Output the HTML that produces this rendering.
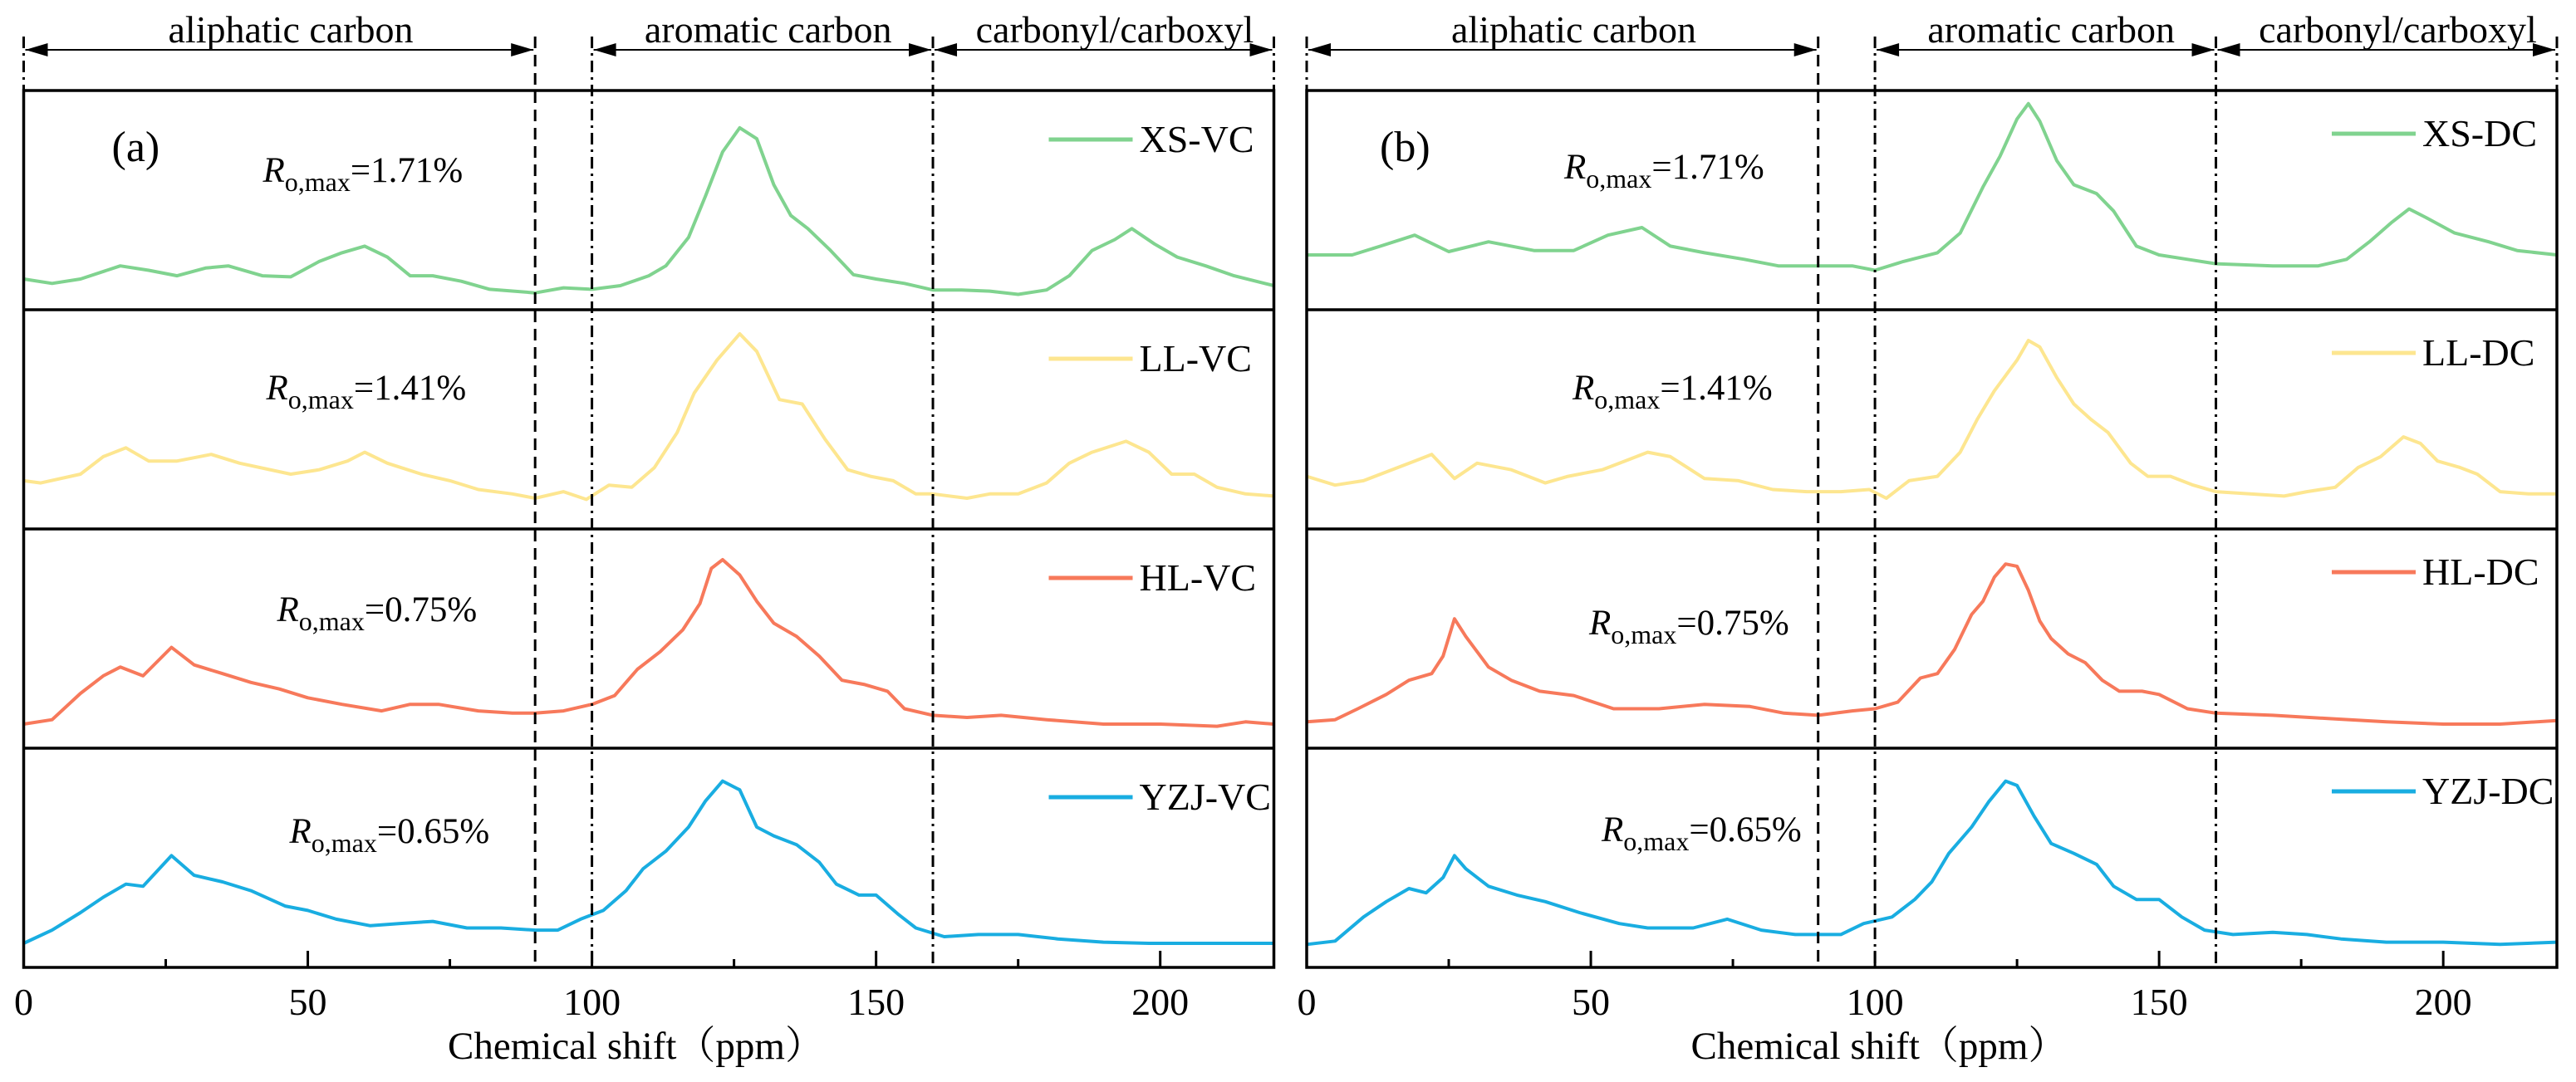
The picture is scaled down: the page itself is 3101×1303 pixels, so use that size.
<!DOCTYPE html>
<html><head><meta charset="utf-8"><style>
html,body{margin:0;padding:0;background:#fff;}
svg{display:block;font-family:"Liberation Serif","Noto Serif CJK SC",serif;}
</style></head><body>
<svg id="chart" width="3101" height="1303" viewBox="0 0 3101 1303" xmlns="http://www.w3.org/2000/svg"></svg>
<script>
// ---- data ----
const ppmXSVC=[0,5,10,17,22,27,32,36,42,47,52,56,60,64,68,72,77,82,90,95,100,105,110,113,117,120,123,126,129,132,135,138,142,146,150,155,160,165,170,175,180,184,188,192,195,199,203,208,213,220];
const intXSVC=[0.14,0.12,0.14,0.20,0.18,0.155,0.19,0.20,0.155,0.15,0.22,0.26,0.29,0.24,0.155,0.155,0.13,0.093,0.077,0.10,0.093,0.11,0.155,0.20,0.33,0.52,0.72,0.83,0.78,0.57,0.43,0.37,0.27,0.16,0.14,0.12,0.09,0.09,0.085,0.07,0.09,0.155,0.27,0.32,0.37,0.30,0.24,0.20,0.155,0.11];
const ppmLLVC=[0,3,10,14,18,22,27,33,38,47,52,57,60,64,70,75,80,86,90,95,99,103,107,111,115,118,122,126,129,133,137,141,145,149,153,157,160,166,170,175,180,184,188,194,198,202,206,210,215,220];
const intLLVC=[0.22,0.21,0.25,0.33,0.37,0.31,0.31,0.34,0.30,0.25,0.27,0.31,0.35,0.30,0.25,0.22,0.18,0.16,0.14,0.17,0.135,0.20,0.19,0.28,0.44,0.62,0.77,0.89,0.81,0.59,0.57,0.41,0.27,0.24,0.22,0.16,0.16,0.14,0.16,0.16,0.21,0.30,0.35,0.40,0.35,0.25,0.25,0.19,0.16,0.15];
const ppmHLVC=[0,5,10,14,17,21,26,30,35,40,45,50,56,63,68,73,80,86,90,95,100,104,108,112,116,119,121,123,126,129,132,136,140,144,148,152,155,160,166,172,180,190,200,210,215,220];
const intHLVC=[0.11,0.13,0.25,0.33,0.37,0.33,0.46,0.38,0.34,0.30,0.27,0.23,0.20,0.17,0.20,0.20,0.17,0.16,0.16,0.17,0.20,0.24,0.36,0.44,0.54,0.66,0.82,0.86,0.79,0.67,0.57,0.51,0.42,0.31,0.29,0.26,0.18,0.15,0.14,0.15,0.13,0.11,0.11,0.10,0.12,0.11];
const ppmYZJVC=[0,5,10,14,18,21,26,30,35,40,46,50,55,61,66,72,78,84,90,94,98,102,106,109,113,117,120,123,126,129,132,136,140,143,147,150,154,157,162,168,175,182,190,198,205,212,220];
const intYZJVC=[0.11,0.17,0.25,0.32,0.38,0.37,0.51,0.42,0.39,0.35,0.28,0.26,0.22,0.19,0.20,0.21,0.18,0.18,0.17,0.17,0.22,0.26,0.35,0.45,0.53,0.64,0.76,0.85,0.81,0.64,0.60,0.56,0.48,0.38,0.33,0.33,0.24,0.18,0.14,0.15,0.15,0.13,0.115,0.11,0.11,0.11,0.11];
const ppmXSDC=[0,8,13,19,25,32,40,47,53,59,64,70,77,83,90,96,100,105,111,115,119,122,125,127,129,132,135,139,142,146,150,155,160,170,178,183,187,191,194,197,202,208,213,220];
const intXSDC=[0.25,0.25,0.29,0.34,0.265,0.31,0.27,0.27,0.34,0.375,0.29,0.26,0.23,0.20,0.20,0.20,0.18,0.22,0.26,0.35,0.56,0.70,0.87,0.94,0.86,0.68,0.57,0.53,0.45,0.29,0.25,0.23,0.21,0.20,0.20,0.23,0.31,0.40,0.46,0.42,0.35,0.31,0.27,0.25];
const ppmLLDC=[0,5,10,15,19,22,26,30,36,42,46,52,56,60,64,70,76,82,88,94,99,102,106,111,115,118,121,125,127,129,132,135,138,141,145,148,152,156,160,166,172,176,181,185,189,193,196,199,203,206,210,215,220];
const intLLDC=[0.24,0.20,0.22,0.27,0.31,0.34,0.23,0.30,0.27,0.21,0.24,0.27,0.31,0.35,0.33,0.23,0.22,0.18,0.17,0.17,0.18,0.14,0.22,0.24,0.35,0.50,0.63,0.77,0.86,0.83,0.69,0.57,0.50,0.44,0.30,0.24,0.24,0.20,0.17,0.16,0.15,0.17,0.19,0.28,0.33,0.42,0.39,0.31,0.28,0.25,0.17,0.16,0.16];
const ppmHLDC=[0,5,9,14,18,22,24,26,28,32,36,41,47,54,62,70,78,84,90,96,100,104,108,111,114,117,119,121,123,125,127,129,131,134,137,140,143,147,150,155,160,170,180,190,200,210,220];
const intHLDC=[0.12,0.13,0.18,0.245,0.31,0.34,0.42,0.59,0.51,0.37,0.31,0.26,0.24,0.18,0.18,0.20,0.19,0.16,0.15,0.17,0.18,0.21,0.32,0.34,0.45,0.61,0.67,0.78,0.84,0.83,0.72,0.58,0.50,0.43,0.39,0.31,0.26,0.26,0.245,0.18,0.16,0.15,0.135,0.12,0.11,0.11,0.126];
const ppmYZJDC=[0,5,10,14,18,21,24,26,28,32,37,42,48,55,60,68,74,80,86,90,94,98,103,107,110,113,117,120,123,125,128,131,135,139,142,146,150,154,158,163,170,176,182,190,200,210,220];
const intYZJDC=[0.105,0.12,0.23,0.30,0.36,0.34,0.41,0.51,0.45,0.37,0.33,0.30,0.25,0.20,0.18,0.18,0.22,0.17,0.15,0.15,0.15,0.20,0.23,0.31,0.39,0.52,0.64,0.755,0.85,0.83,0.69,0.565,0.52,0.47,0.37,0.31,0.31,0.23,0.17,0.15,0.16,0.15,0.13,0.115,0.115,0.105,0.115];
const xTicksMajor=[0,50,100,150,200];
const xTicksMinor=[25,75,125,175];
const seriesNamesA=["XS-VC","LL-VC","HL-VC","YZJ-VC"];
const seriesNamesB=["XS-DC","LL-DC","HL-DC","YZJ-DC"];
const roLabels=["1.71%","1.41%","0.75%","0.65%"];
const colors=["#80d38f","#fde690","#f7795b","#19ade1"];
const regionBounds=[0,90,100,160,220];

// ---- drawing ----
const NS="http://www.w3.org/2000/svg";
const svg=document.getElementById('chart');
function mk(tag,attrs,parent){const e=document.createElementNS(NS,tag);for(const k in attrs)e.setAttribute(k,attrs[k]);(parent||svg).appendChild(e);return e;}
const XMAX=220, PW=1505, SUBH=264;
const subTops=[109,373,637,901];
const panels=[
 {left:28.5,series:[[ppmXSVC,intXSVC],[ppmLLVC,intLLVC],[ppmHLVC,intHLVC],[ppmYZJVC,intYZJVC]],names:seriesNamesA,tag:"(a)",roX:[288,292,305,320],roY:[110,108,111,114],titleX:737,id:"a"},
 {left:1573,series:[[ppmXSDC,intXSDC],[ppmLLDC,intLLDC],[ppmHLDC,intHLDC],[ppmYZJDC,intYZJDC]],names:seriesNamesB,tag:"(b)",roX:[310,320,340,355],roY:[106,108,127,112],titleX:689,id:"b"}
];
panels.forEach(P=>{
  const sx=p=>P.left+p/XMAX*PW;
  const g=mk('g',{});
  
  
  const bottom=subTops[3]+SUBH;
  P.series.forEach((s,i)=>{
    const top=subTops[i];
    const sy=v=>top+SUBH*(1-v);
    const pts=s[0].map((p,j)=>sx(p).toFixed(1)+','+sy(s[1][j]).toFixed(1)).join(' ');
    const pl=mk('polyline',{points:pts,fill:'none',stroke:colors[i],'stroke-width':4,'stroke-linejoin':'round'},g);
    
    
    const ly=top+(P.id==="a"?59:52);
    const ll=mk('line',{x1:P.left+1234,x2:P.left+1335,y1:ly,y2:ly,stroke:colors[i],'stroke-width':5},g);
    
    
    const lt=mk('text',{x:P.left+1343,y:ly+15,'font-size':46},g);
    lt.textContent=P.names[i];
    
    
    const rt=mk('text',{x:P.left+P.roX[i],y:top+P.roY[i],'font-size':43},g);
    
    
    const t1=mk('tspan',{'font-style':'italic'},rt);t1.textContent='R';
    const t2=mk('tspan',{dy:11,'font-size':32},rt);t2.textContent='o,max';
    const t3=mk('tspan',{dy:-11},rt);t3.textContent='='+roLabels[i];
    if(i>0){const sl=mk('line',{x1:P.left,x2:P.left+PW,y1:top,y2:top,stroke:'#000','stroke-width':3.5},g);
      
      }
  });
  const fr=mk('rect',{x:P.left,y:subTops[0],width:PW,height:bottom-subTops[0],fill:'none',stroke:'#000','stroke-width':3.5},g);
  
  
  regionBounds.forEach((b,k)=>{
    const edge=(k===0||k===4);
    const dash=(b===90)?'14,8':'14,6,3,6';
    const vl=mk('line',{x1:sx(b),x2:sx(b),y1:44,y2:edge?subTops[0]:bottom,stroke:'#000','stroke-width':3,'stroke-dasharray':dash},g);
    
    
  });
  const regions=[[0,90,47,"aliphatic carbon"],[100,160,131,"aromatic carbon"],[160,220,192,"carbonyl/carboxyl"]];
  regions.forEach(r=>{
    const ay=60,a=sx(r[0])+2,b=sx(r[1])-2;
    const al=mk('line',{x1:a,x2:b,y1:ay,y2:ay,stroke:'#000','stroke-width':2},g);
    
    
    mk('polygon',{points:`${a},${ay} ${a+27},${ay-8} ${a+27},${ay+8}`,fill:'#000'},g);
    mk('polygon',{points:`${b},${ay} ${b-27},${ay-8} ${b-27},${ay+8}`,fill:'#000'},g);
    const rl=mk('text',{x:sx(r[2]),y:51,'font-size':46,'text-anchor':'middle'},g);
    rl.textContent=r[3];
    
    
  });
  xTicksMajor.forEach(t=>{
    mk('line',{x1:sx(t),x2:sx(t),y1:bottom,y2:bottom-20,stroke:'#000','stroke-width':3},g);
    const tl=mk('text',{x:sx(t),y:1222,'font-size':46,'text-anchor':'middle'},g);
    tl.textContent=t;
    
    
  });
  xTicksMinor.forEach(t=>{mk('line',{x1:sx(t),x2:sx(t),y1:bottom,y2:bottom-10,stroke:'#000','stroke-width':3},g);});
  const pt=mk('text',{x:P.left+(P.id==="a"?106:88),y:subTops[0]+85,'font-size':52},g);
  pt.textContent=P.tag;
  
  
  const at=mk('text',{x:P.left+P.titleX,y:1275,'font-size':47,'text-anchor':'middle'},g);
  at.textContent='Chemical shift（ppm）';
  
  
});
</script>
</body></html>
